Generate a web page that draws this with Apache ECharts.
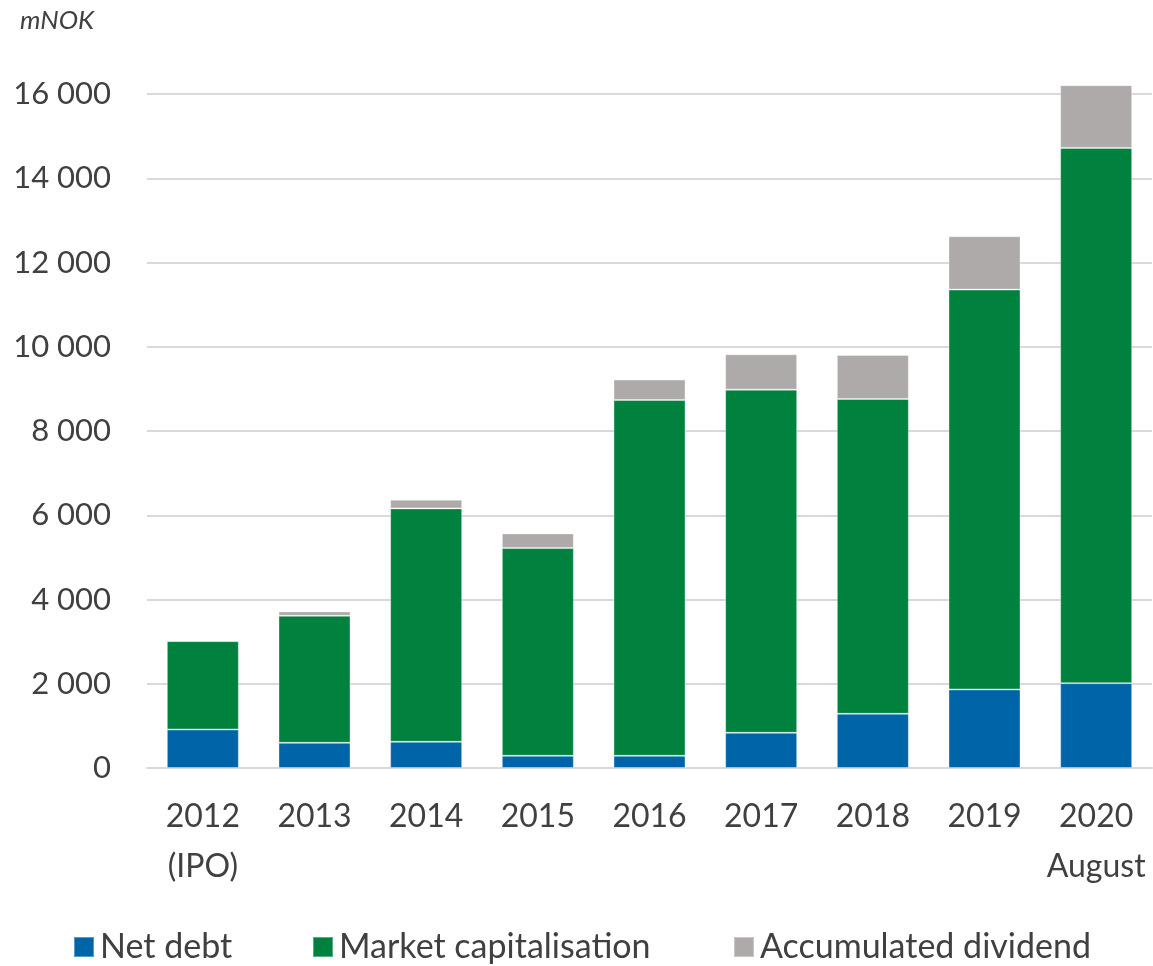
<!DOCTYPE html>
<html>
<head>
<meta charset="utf-8">
<script src="https://cdn.jsdelivr.net/npm/echarts@6/dist/echarts.min.js"></script>
<style>
  html, body { margin: 0; padding: 0; background: #fff; }
  #chart { width: 1153px; height: 966px; }
</style>
</head>
<body>
<div id="chart"></div>
<script>
const categories = ['2012\n(IPO)', '2013', '2014', '2015', '2016', '2017', '2018', '2019', '2020\nAugust'];
const netDebt = [914, 598, 622, 290, 290, 836, 1287, 1864, 2014];
const marketCap = [2098, 3017, 5541, 4930, 8445, 8146, 7472, 9493, 12706];
const accDividend = [0, 102, 207, 349, 485, 839, 1045, 1266, 1489];
const yTicks = [0, 2000, 4000, 6000, 8000, 10000, 12000, 14000, 16000];
const seriesNames = ['Net debt', 'Market capitalisation', 'Accumulated dividend'];

const font = 'Lato, "Open Sans", sans-serif';
const textColor = '#404040';

const chart = echarts.init(document.getElementById('chart'));

const fmt = (v) => String(v).replace(/\B(?=(\d{3})+(?!\d))/g, ' ');

function barSeries(name, data, color) {
  return {
    name: name,
    type: 'bar',
    stack: 'total',
    barWidth: 72,
    clip: false,
    data: data,
    itemStyle: { color: color, borderColor: 'rgba(255,255,255,0.35)', borderWidth: 1 },
    emphasis: { disabled: true }
  };
}

// one legend per item so each can sit where the original puts it
const legendLeft = [73, 312, 733];
const legends = seriesNames.map((n, i) => ({
  left: legendLeft[i],
  top: 930,
  padding: 0,
  itemWidth: 20,
  itemHeight: 20,
  icon: 'rect',
  selectedMode: false,
  textStyle: { fontFamily: font, fontSize: 34, color: textColor, padding: [0, 0, 0, 1] },
  data: [n]
}));

chart.setOption({
  animation: false,
  title: {
    text: 'mNOK',
    left: 15,
    top: 3,
    textStyle: { fontFamily: font, fontStyle: 'italic', fontWeight: 'normal', fontSize: 26, color: textColor }
  },
  legend: legends,
  grid: { left: 147, right: 1, top: 94, bottom: 198 },
  xAxis: {
    type: 'category',
    data: categories,
    axisLine: { lineStyle: { color: '#d9d9d9', width: 2 } },
    axisTick: { show: false },
    axisLabel: {
      fontFamily: font,
      fontSize: 32,
      color: textColor,
      lineHeight: 50,
      margin: 24,
      interval: 0
    }
  },
  yAxis: {
    type: 'value',
    min: yTicks[0],
    max: yTicks[yTicks.length - 1],
    interval: yTicks[1] - yTicks[0],
    axisLine: { show: false },
    axisTick: { show: false },
    splitLine: { lineStyle: { color: '#d9d9d9', width: 2 } },
    axisLabel: {
      fontFamily: font,
      fontSize: 31,
      color: textColor,
      margin: 36,
      formatter: fmt
    }
  },
  series: [
    barSeries(seriesNames[0], netDebt, '#0064a8'),
    barSeries(seriesNames[1], marketCap, '#00823f'),
    barSeries(seriesNames[2], accDividend, '#aeaaaa')
  ]
});
</script>
</body>
</html>
